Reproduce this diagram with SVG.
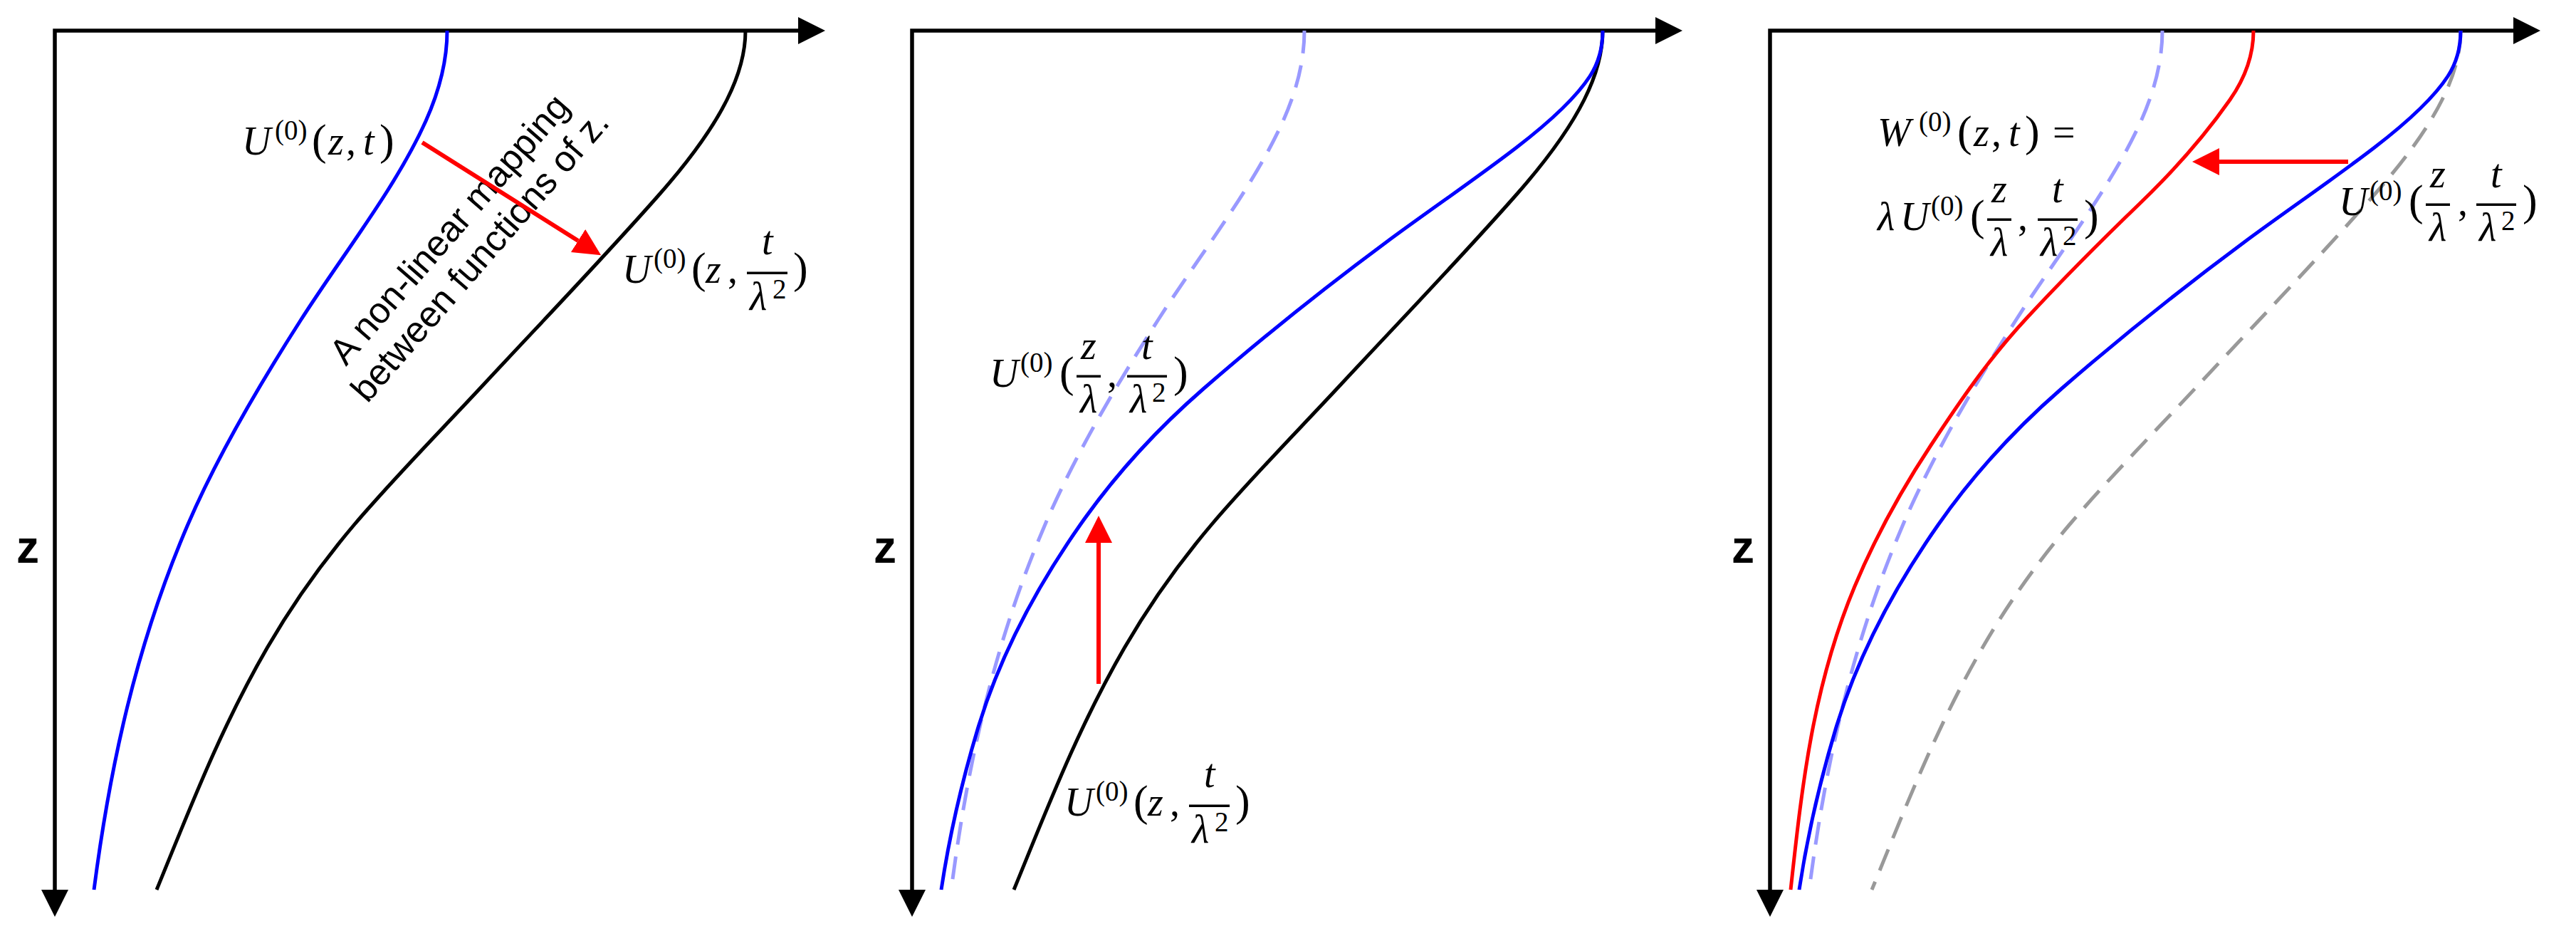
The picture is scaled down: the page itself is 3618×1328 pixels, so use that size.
<svg xmlns="http://www.w3.org/2000/svg" width="3618" height="1328" viewBox="0 0 3618 1328">
<style>
.ax{fill:none;stroke:#000;stroke-width:5.5;stroke-linejoin:miter}
.cv{fill:none;stroke-width:5;stroke-linejoin:round;stroke-linecap:butt}
.blk{stroke:#000}
.blu{stroke:#0000ff}
.red{stroke:#ff0000}
.lbd{stroke:#9999ff;stroke-dasharray:32 17}
.gyd{stroke:#999999;stroke-dasharray:32 17}
.arr{fill:none;stroke:#ff0000;stroke-width:6}
.m{font-family:"Liberation Serif","DejaVu Serif",serif;font-size:56px;fill:#000}
.i{font-style:italic}
.s{font-size:39px}
.p{font-size:62px}
.bar{fill:#000}
.sans{font-family:"Liberation Sans",Arial,sans-serif;fill:#000}
</style>
<defs>
<marker id="ak" markerUnits="userSpaceOnUse" viewBox="0 0 38 38" markerWidth="38" markerHeight="38" refX="0" refY="19" orient="auto-start-reverse"><path d="M0,0L38,19L0,38z" fill="#000"/></marker>
<marker id="ar" markerUnits="userSpaceOnUse" viewBox="0 0 38 38" markerWidth="38" markerHeight="38" refX="0" refY="19" orient="auto"><path d="M0,0L38,19L0,38z" fill="#ff0000"/></marker>
<path id="c1" d="M551,43 C551,85.3 540,127.7 521,170 C479,263.3 404.7,356.7 345,450 C284,545.3 228,640.7 187,736 C113.5,907 77.2,1078 55,1249"/>
<path id="c2" d="M970,43 C970,75.3 960.2,107.7 944,140 C921.8,184.3 888,228.7 849,273 C770.7,362 684.8,451 602,540 C541.3,605.3 476.5,670.7 421,736 C372,793.7 332,851.3 298.5,909 C232.8,1022.3 189.5,1135.7 143,1249"/>
<path id="c3" d="M970,43 C970,64.3 965.9,85.7 952,107 C930.3,140.3 892.3,173.7 849,207 C791.4,251.3 725.8,295.7 666,340 C573.3,408.7 488,477.3 409,546 C335.8,609.7 280.6,673.3 236,737 C169,832.7 120.7,928.3 92,1024 C69.5,1099 52.3,1174 41,1249"/>
<path id="c4" d="M679,43 C679,75.3 668.6,107.7 646,140 C611.7,189 569,238 518,287 C462.9,340 410.3,393 361,446 C305.5,505.7 265.4,565.3 226,625 C182.4,691 146.7,757 119,823 C59.4,965 44.6,1107 29,1249"/>
</defs>
<rect x="0" y="0" width="3618" height="1328" fill="#fff"/>

<g id="panel1">
  <g id="p1-axes">
    <path class="ax" d="M1121,43 H77 V1249" marker-start="url(#ak)" marker-end="url(#ak)"/>
    <text class="sans" font-size="64" font-weight="bold" x="39" y="790" text-anchor="middle">z</text>
  </g>
  <g id="p1-curves">
    <use href="#c1" x="77" class="cv blu"/>
    <use href="#c2" x="77" class="cv blk"/>
  </g>
  <g id="p1-label-u">
    <text class="m"><tspan class="i" x="340" y="217">U</tspan><tspan class="s" x="386" y="196">(0)</tspan><tspan class="p" x="438" y="217">(</tspan><tspan class="i" x="461" y="217">z</tspan><tspan x="486" y="217">,</tspan><tspan class="i" x="510" y="217">t</tspan><tspan class="p" x="533" y="217">)</tspan></text>
  </g>
  <g id="p1-label-ut">
    <text class="m"><tspan class="i" x="874" y="397">U</tspan><tspan class="s" x="918" y="376">(0)</tspan><tspan class="p" x="971" y="397">(</tspan><tspan class="i" x="991" y="397">z</tspan><tspan x="1022" y="397">,</tspan><tspan class="i" x="1070" y="357">t</tspan><tspan class="i" x="1053" y="435">λ</tspan><tspan class="s" x="1085" y="419">2</tspan><tspan class="p" x="1114" y="397">)</tspan></text>
    <rect class="bar" x="1049" y="381.5" width="57" height="3.5"/>
  </g>
  <g id="p1-note" transform="translate(644,333) rotate(-49)">
    <text class="sans" font-size="51" text-anchor="middle"><tspan x="0" y="0">A non-linear mapping</tspan><tspan x="0" y="57">between functions of z.</tspan></text>
  </g>
</g>

<g id="panel2">
  <g id="p2-axes">
    <path class="ax" d="M2325,43 H1281 V1249" marker-start="url(#ak)" marker-end="url(#ak)"/>
    <text class="sans" font-size="64" font-weight="bold" x="1243" y="790" text-anchor="middle">z</text>
  </g>
  <g id="p2-curves">
    <use href="#c1" x="1281" class="cv lbd"/>
    <use href="#c2" x="1281" class="cv blk"/>
    <use href="#c3" x="1281" class="cv blu"/>
  </g>
  <g id="p2-label-uzt">
    <text class="m"><tspan class="i" x="1390" y="543">U</tspan><tspan class="s" x="1433" y="522">(0)</tspan><tspan class="p" x="1488" y="543">(</tspan><tspan class="i" x="1518" y="504">z</tspan><tspan class="i" x="1517" y="579">λ</tspan><tspan x="1555" y="543">,</tspan><tspan class="i" x="1603" y="504">t</tspan><tspan class="i" x="1587" y="579">λ</tspan><tspan class="s" x="1618" y="564">2</tspan><tspan class="p" x="1648" y="543">)</tspan></text>
    <rect class="bar" x="1512" y="526.5" width="34" height="3.5"/>
    <rect class="bar" x="1583" y="526.5" width="56" height="3.5"/>
  </g>
  <g id="p2-label-ut">
    <text class="m"><tspan class="i" x="1495" y="1145">U</tspan><tspan class="s" x="1539" y="1124">(0)</tspan><tspan class="p" x="1592" y="1145">(</tspan><tspan class="i" x="1612" y="1145">z</tspan><tspan x="1643" y="1145">,</tspan><tspan class="i" x="1691" y="1105">t</tspan><tspan class="i" x="1674" y="1183">λ</tspan><tspan class="s" x="1706" y="1167">2</tspan><tspan class="p" x="1735" y="1145">)</tspan></text>
    <rect class="bar" x="1670" y="1129.5" width="57" height="3.5"/>
  </g>
</g>

<g id="panel3">
  <g id="p3-axes">
    <path class="ax" d="M3530,43 H2486 V1249" marker-start="url(#ak)" marker-end="url(#ak)"/>
    <text class="sans" font-size="64" font-weight="bold" x="2448" y="790" text-anchor="middle">z</text>
  </g>
  <g id="p3-curves">
    <use href="#c1" x="2486" class="cv lbd"/>
    <use href="#c2" x="2486" class="cv gyd"/>
    <use href="#c4" x="2486" class="cv red"/>
    <use href="#c3" x="2486" class="cv blu"/>
  </g>
  <g id="p3-label-w">
    <text class="m"><tspan class="i" x="2637" y="205">W</tspan><tspan class="s" x="2695" y="184">(0)</tspan><tspan class="p" x="2749" y="205">(</tspan><tspan class="i" x="2772" y="205">z</tspan><tspan x="2797" y="205">,</tspan><tspan class="i" x="2821" y="205">t</tspan><tspan class="p" x="2844" y="205">)</tspan><tspan x="2883" y="205">=</tspan></text>
  </g>
  <g id="p3-label-lu">
    <text class="m"><tspan class="i" x="2637" y="323">λ</tspan><tspan class="i" x="2669" y="323">U</tspan><tspan class="s" x="2712" y="302">(0)</tspan><tspan class="p" x="2767" y="323">(</tspan><tspan class="i" x="2797" y="284">z</tspan><tspan class="i" x="2796" y="359">λ</tspan><tspan x="2834" y="323">,</tspan><tspan class="i" x="2882" y="284">t</tspan><tspan class="i" x="2866" y="359">λ</tspan><tspan class="s" x="2897" y="344">2</tspan><tspan class="p" x="2927" y="323">)</tspan></text>
    <rect class="bar" x="2791" y="306.5" width="34" height="3.5"/>
    <rect class="bar" x="2862" y="306.5" width="56" height="3.5"/>
  </g>
  <g id="p3-label-uzt">
    <text class="m"><tspan class="i" x="3285" y="302">U</tspan><tspan class="s" x="3328" y="281">(0)</tspan><tspan class="p" x="3383" y="302">(</tspan><tspan class="i" x="3413" y="263">z</tspan><tspan class="i" x="3412" y="338">λ</tspan><tspan x="3452" y="302">,</tspan><tspan class="i" x="3498" y="263">t</tspan><tspan class="i" x="3482" y="338">λ</tspan><tspan class="s" x="3513" y="323">2</tspan><tspan class="p" x="3543" y="302">)</tspan></text>
    <rect class="bar" x="3407" y="285.5" width="34" height="3.5"/>
    <rect class="bar" x="3478" y="285.5" width="56" height="3.5"/>
  </g>
</g>

<g id="connectors">
  <line class="arr" x1="593" y1="200" x2="812" y2="338" marker-end="url(#ar)"/>
  <line class="arr" x1="1543" y1="960" x2="1543" y2="762" marker-end="url(#ar)"/>
  <line class="arr" x1="3298" y1="227" x2="3117" y2="227" marker-end="url(#ar)"/>
</g>
</svg>
